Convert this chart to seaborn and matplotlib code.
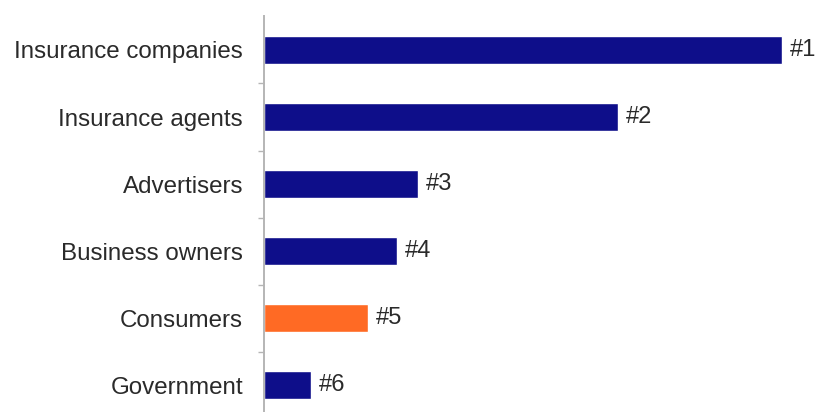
import matplotlib
matplotlib.use("Agg")
import matplotlib.pyplot as plt
from matplotlib.ticker import FixedLocator
import seaborn as sns
import pandas as pd

# Ranked groups and their scores
groups = ["Insurance companies", "Insurance agents", "Advertisers",
          "Business owners", "Consumers", "Government"]
scores = [51.8, 35.4, 15.4, 13.3, 10.4, 4.7]
rank_labels = ["#1", "#2", "#3", "#4", "#5", "#6"]
bar_colors = ["#0e0e8a", "#0e0e8a", "#0e0e8a", "#0e0e8a", "#ff6a24", "#0e0e8a"]

sns.set_theme(style="white")
plt.rcParams["font.family"] = ["Liberation Sans", "DejaVu Sans"]

df = pd.DataFrame({"group": groups, "score": scores})

fig = plt.figure(figsize=(8.17, 4.12), dpi=100)
ax = fig.add_axes([0.323, -0.016, 0.677, 0.976])

sns.barplot(data=df, x="score", y="group", hue="group", order=groups,
            palette=dict(zip(groups, bar_colors)), legend=False,
            width=0.41, saturation=1, ax=ax)

for patch, lab in zip(ax.patches, rank_labels):
    ax.annotate(lab, (patch.get_width(), patch.get_y() + patch.get_height() / 2),
                xytext=(5.5, 0), textcoords="offset points", va="center", ha="left",
                fontsize=17, color="#2a2a2a")

ax.set_xlim(0, 55.3)
ax.set_ylim(5.5, -0.5)
ax.set_xlabel("")
ax.set_ylabel("")
ax.set_xticks([])

for side in ("top", "right", "bottom"):
    ax.spines[side].set_visible(False)
ax.spines["left"].set_color("#b5b5b5")
ax.spines["left"].set_linewidth(1.4)

ax.tick_params(axis="y", which="major", length=0, pad=15,
               labelsize=17.4, labelcolor="#2a2a2a")
ax.yaxis.set_minor_locator(FixedLocator([0.5, 1.5, 2.5, 3.5, 4.5]))
ax.tick_params(axis="y", which="minor", left=True, length=4, width=1,
               color="#b5b5b5")

fig.savefig("out.png", dpi=100)
